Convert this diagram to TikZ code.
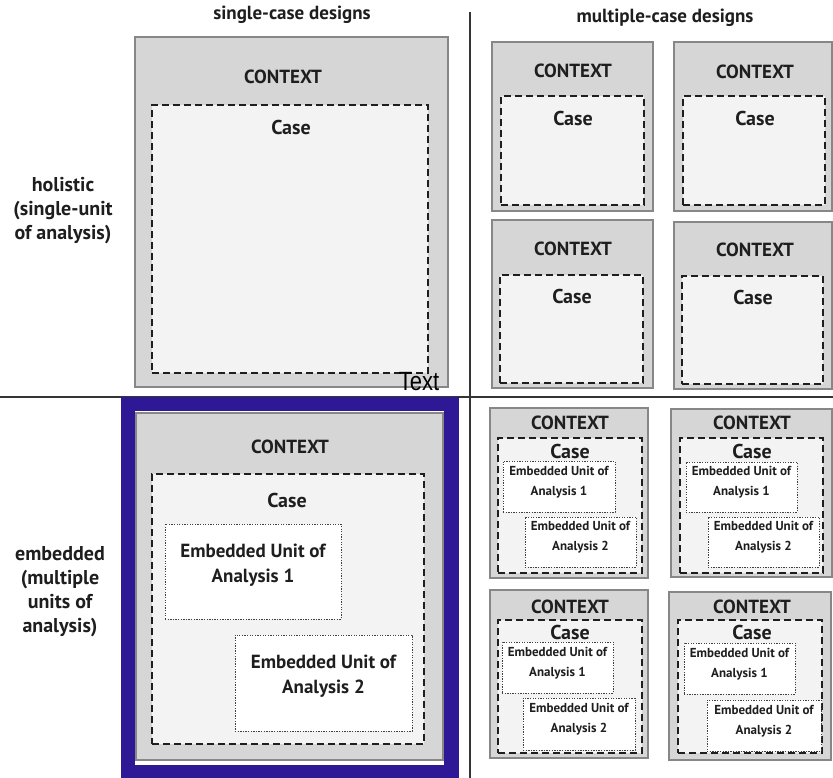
\documentclass[tikz,border=0pt]{standalone}
\usepackage{fontspec}
\setmainfont{PT Sans}
\newfontfamily\arialfont{Liberation Sans}
\usetikzlibrary{fit}

\definecolor{ctxgray}{RGB}{214,214,214}
\definecolor{ctxedge}{RGB}{135,135,135}
\definecolor{casefill}{RGB}{243,243,243}
\definecolor{ink}{RGB}{30,30,30}
\definecolor{frameblue}{RGB}{46,24,150}

\tikzset{
  ctxbox/.style={draw=ctxedge, line width=1.2pt, fill=ctxgray, inner sep=0pt},
  casebox/.style={draw=ink, line width=1.3pt, dash pattern=on 7pt off 4pt, fill=casefill, inner sep=0pt},
  unitbox/.style={draw=ink!85, line width=1pt, dash pattern=on 1.3pt off 1.3pt, fill=white, inner sep=0pt, align=center, text=ink},
  bigunit/.style={unitbox, font=\fontsize{19}{25}\selectfont\bfseries},
  smallunit/.style={unitbox, font=\fontsize{13}{20}\selectfont\bfseries},
  ctxlbl/.style={font=\fontsize{19}{22}\selectfont\bfseries, text=ink, inner sep=0pt},
  caselbl/.style={font=\fontsize{20}{22}\selectfont\bfseries, text=ink, inner sep=0pt},
  headlbl/.style={font=\fontsize{19}{22}\selectfont\bfseries, text=ink, inner sep=0pt},
  rowlbl/.style={font=\fontsize{20}{24}\selectfont\bfseries, text=ink, align=center, inner sep=0pt},
  divider/.style={draw=ink!90, line width=1.8pt},
}

\begin{document}
\begin{tikzpicture}[x=1pt, y=-1pt]
  \useasboundingbox (0,0) rectangle (833,778);
  \fill[white] (0,0) rectangle (833,778);

  % dividing lines of the 2x2 table
  \coordinate (vtop) at (470,12);
  \coordinate (vbot) at (470,778);
  \coordinate (hl) at (0,397);
  \coordinate (hr) at (833,397);
  \draw[divider] (vtop) -- (vbot);
  \draw[divider] (hl) -- (hr);

  % column and row headings
  \node[headlbl] (hsingle) at (292,15) {single-case designs};
  \node[headlbl] (hmulti) at (665,18) {multiple-case designs};
  \node[rowlbl] (rhol) at (63,211) {holistic\\(single-unit\\of analysis)};
  \node[rowlbl] (remb) at (60,592) {embedded\\(multiple\\units of\\analysis)};

  % ---- single-case, holistic ----
  \node[ctxbox, fit={(135,37) (448,387)}] (sh) {};
  \node[casebox, fit={(152,105) (428,373)}] (shc) {};
  \node[ctxlbl] (shl) at (283,77) {CONTEXT};
  \node[caselbl] (shcl) at (291,128) {Case};
  \node[font=\arialfont\fontsize{22}{22}\selectfont, inner sep=0pt] (txt) at (419,382) {\scalebox{1}[1.2]{Text}};

  % ---- multiple-case, holistic ----
  \node[ctxbox, fit={(492,42) (653,211)}] (m1) {};
  \node[casebox, fit={(501,96) (644,205)}] (m1c) {};
  \node[ctxlbl] at (573,71) {CONTEXT};
  \node[caselbl] at (573,119) {Case};

  \node[ctxbox, fit={(674,42) (832,211)}] (m2) {};
  \node[casebox, fit={(683,96) (825,205)}] (m2c) {};
  \node[ctxlbl] at (755,72) {CONTEXT};
  \node[caselbl] at (755,119) {Case};

  \node[ctxbox, fit={(492,220) (653,388)}] (m3) {};
  \node[casebox, fit={(500,275) (643,383)}] (m3c) {};
  \node[ctxlbl] at (573,249) {CONTEXT};
  \node[caselbl] at (572,297) {Case};

  \node[ctxbox, fit={(674,222) (832,389)}] (m4) {};
  \node[casebox, fit={(682,276) (823,384)}] (m4c) {};
  \node[ctxlbl] at (755,250) {CONTEXT};
  \node[caselbl] at (753,298) {Case};

  % ---- single-case, embedded (highlighted) ----
  \node[fill=frameblue, inner sep=0pt, fit={(121,397) (459,778)}] (se0) {};
  \node[fill=white, inner sep=0pt, fit={(135,411) (444,765)}] (se1) {};
  \node[ctxbox, fit={(136,413) (443,760)}] (se) {};
  \node[casebox, fit={(152,474) (424,744)}] (sec) {};
  \node[ctxlbl] (sel) at (290,447) {CONTEXT};
  \node[caselbl] (secl) at (287,500) {Case};
  \node[bigunit, fit={(165,524) (341,619)}] (seu1) {Embedded Unit of\\Analysis 1};
  \node[bigunit, fit={(235,635) (412,731)}] (seu2) {Embedded Unit of\\Analysis 2};

  % ---- multiple-case, embedded ----
  \node[ctxbox, fit={(490,408) (648,578)}] (e1) {};
  \node[casebox, fit={(498,438) (642,573)}] (e1c) {};
  \node[ctxlbl] at (570,423) {CONTEXT};
  \node[caselbl] at (570,451) {Case};
  \node[smallunit, fit={(503,461) (615,512)}] (e1u1) {Embedded Unit of\\Analysis 1};
  \node[smallunit, fit={(525,517) (636,567)}] (e1u2) {Embedded Unit of\\Analysis 2};

  \node[ctxbox, fit={(671,409) (832,577)}] (e2) {};
  \node[casebox, fit={(680,438) (823,573)}] (e2c) {};
  \node[ctxlbl] at (752,423) {CONTEXT};
  \node[caselbl] at (752,451) {Case};
  \node[smallunit, fit={(686,462) (797,512)}] (e2u1) {Embedded Unit of\\Analysis 1};
  \node[smallunit, fit={(708,517) (819,567)}] (e2u2) {Embedded Unit of\\Analysis 2};

  \node[ctxbox, fit={(490,590) (648,758)}] (e3) {};
  \node[casebox, fit={(498,620) (642,753)}] (e3c) {};
  \node[ctxlbl] at (570,607) {CONTEXT};
  \node[caselbl] at (570,632) {Case};
  \node[smallunit, fit={(502,642) (613,693)}] (e3u1) {Embedded Unit of\\Analysis 1};
  \node[smallunit, fit={(523,698) (635,750)}] (e3u2) {Embedded Unit of\\Analysis 2};

  \node[ctxbox, fit={(669,592) (831,760)}] (e4) {};
  \node[casebox, fit={(678,620) (822,753)}] (e4c) {};
  \node[ctxlbl] at (752,607) {CONTEXT};
  \node[caselbl] at (752,632) {Case};
  \node[smallunit, fit={(684,643) (795,694)}] (e4u1) {Embedded Unit of\\Analysis 1};
  \node[smallunit, fit={(707,700) (821,751)}] (e4u2) {Embedded Unit of\\Analysis 2};
\end{tikzpicture}
\end{document}
